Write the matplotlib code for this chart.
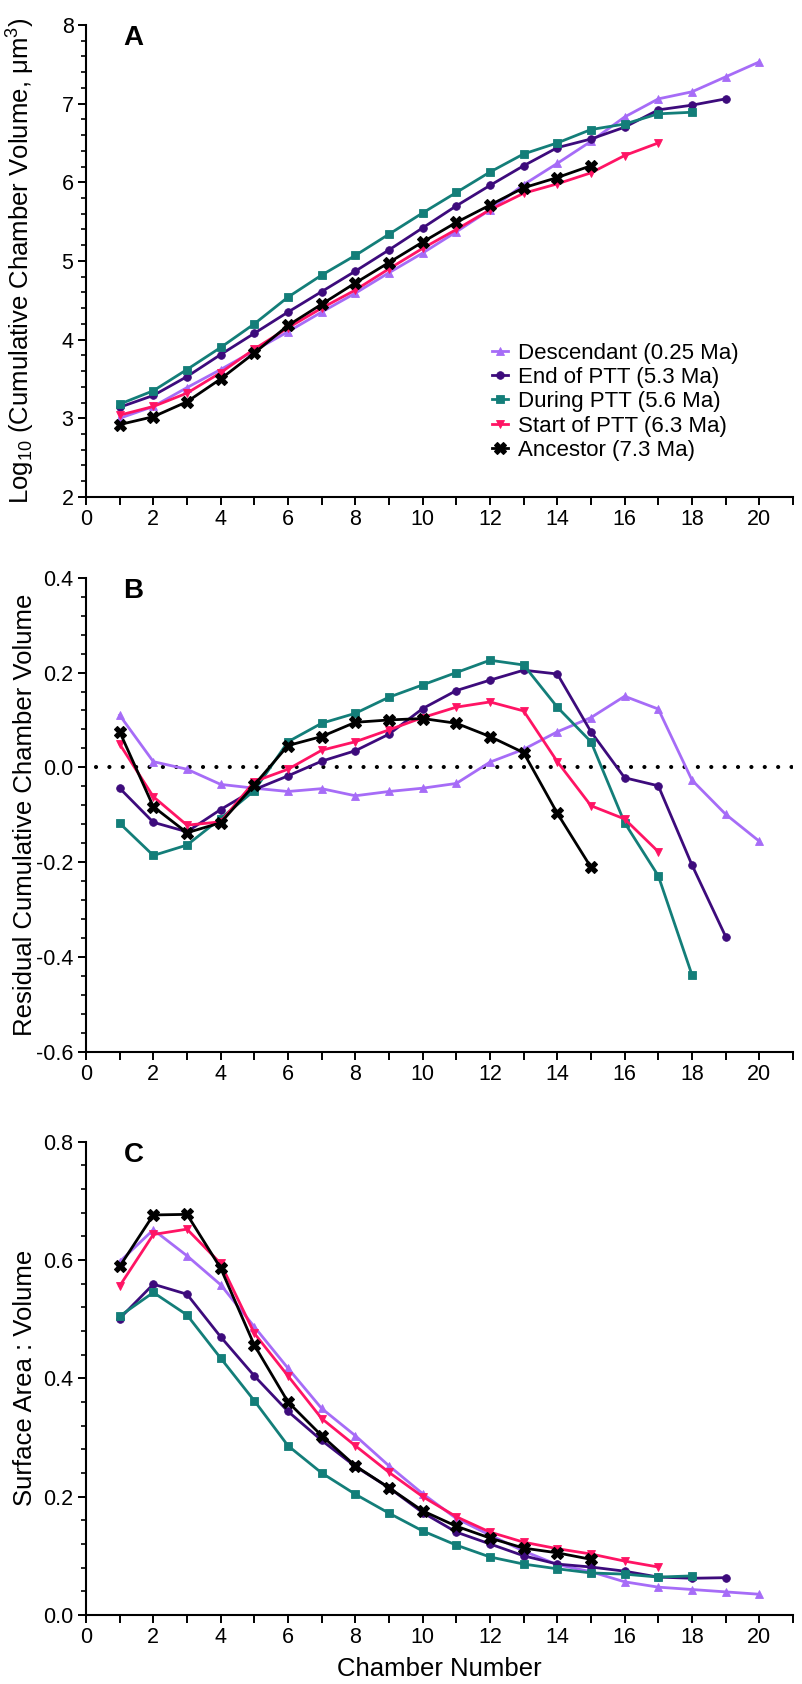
import matplotlib
matplotlib.use("Agg")
import matplotlib.pyplot as plt
from matplotlib.ticker import MultipleLocator, FuncFormatter

plt.rcParams['font.family'] = ['Liberation Sans', 'DejaVu Sans']
plt.rcParams['mathtext.fontset'] = 'custom'
plt.rcParams['mathtext.rm'] = 'Liberation Sans'
plt.rcParams['mathtext.it'] = 'Liberation Sans:italic'

# series labels / styles
names = ["Descendant (0.25 Ma)", "End of PTT (5.3 Ma)", "During PTT (5.6 Ma)",
         "Start of PTT (6.3 Ma)", "Ancestor (7.3 Ma)"]
colors = ["#a66cf7", "#3d0b7c", "#137e79", "#ff1464", "#000000"]
markers = ["^", "o", "s", "v", "X"]

# chamber numbers
ch_desc = list(range(1, 21))
ch_end = list(range(1, 20))
ch_during = list(range(1, 19))
ch_start = list(range(1, 18))
ch_anc = list(range(1, 16))

# A: log10 cumulative chamber volume
logvol_desc = [3.00, 3.15, 3.39, 3.62, 3.86, 4.10, 4.35, 4.59, 4.85, 5.10,
               5.37, 5.65, 5.97, 6.24, 6.52, 6.83, 7.06, 7.15, 7.34, 7.53]
logvol_end = [3.14, 3.29, 3.53, 3.81, 4.08, 4.35, 4.61, 4.87, 5.14, 5.42,
              5.70, 5.96, 6.21, 6.44, 6.55, 6.70, 6.92, 6.98, 7.06]
logvol_during = [3.18, 3.35, 3.62, 3.90, 4.20, 4.54, 4.82, 5.07, 5.34, 5.61,
                 5.87, 6.13, 6.36, 6.50, 6.67, 6.74, 6.87, 6.89]
logvol_start = [3.04, 3.15, 3.32, 3.58, 3.88, 4.15, 4.40, 4.63, 4.90, 5.16,
                5.40, 5.65, 5.86, 5.98, 6.12, 6.34, 6.50]
logvol_anc = [2.92, 3.02, 3.21, 3.50, 3.83, 4.18, 4.45, 4.72, 4.98, 5.24,
              5.49, 5.71, 5.93, 6.06, 6.21]

# B: residual cumulative chamber volume
resid_desc = [0.110, 0.012, -0.004, -0.036, -0.044, -0.051, -0.045, -0.060, -0.051, -0.044,
              -0.034, 0.011, 0.038, 0.075, 0.105, 0.150, 0.123, -0.027, -0.099, -0.156]
resid_end = [-0.044, -0.116, -0.136, -0.089, -0.047, -0.018, 0.013, 0.035, 0.070, 0.124,
             0.162, 0.184, 0.205, 0.197, 0.075, -0.022, -0.039, -0.206, -0.357]
resid_during = [-0.118, -0.186, -0.164, -0.108, -0.049, 0.054, 0.093, 0.114, 0.148, 0.174,
                0.200, 0.226, 0.216, 0.127, 0.054, -0.117, -0.229, -0.438]
resid_start = [0.049, -0.062, -0.122, -0.115, -0.030, -0.004, 0.036, 0.054, 0.079, 0.105,
               0.127, 0.138, 0.119, 0.012, -0.081, -0.109, -0.178]
resid_anc = [0.075, -0.083, -0.138, -0.117, -0.037, 0.046, 0.065, 0.095, 0.100, 0.103,
             0.093, 0.065, 0.031, -0.097, -0.211]

# C: surface area : volume
sav_desc = [0.597, 0.651, 0.607, 0.558, 0.487, 0.417, 0.349, 0.303, 0.252, 0.205,
            0.163, 0.135, 0.108, 0.085, 0.073, 0.056, 0.047, 0.043, 0.039, 0.035]
sav_end = [0.501, 0.559, 0.542, 0.470, 0.404, 0.344, 0.295, 0.251, 0.215, 0.173,
           0.140, 0.120, 0.100, 0.086, 0.081, 0.074, 0.064, 0.062, 0.063]
sav_during = [0.505, 0.545, 0.507, 0.434, 0.362, 0.286, 0.240, 0.204, 0.172, 0.142,
              0.118, 0.098, 0.086, 0.078, 0.071, 0.069, 0.064, 0.066]
sav_start = [0.556, 0.643, 0.652, 0.594, 0.476, 0.404, 0.332, 0.286, 0.241, 0.200,
             0.166, 0.140, 0.123, 0.112, 0.103, 0.091, 0.081]
sav_anc = [0.589, 0.676, 0.677, 0.586, 0.456, 0.360, 0.303, 0.252, 0.215, 0.176,
           0.150, 0.130, 0.113, 0.105, 0.094]

chambers = [ch_desc, ch_end, ch_during, ch_start, ch_anc]
panel_a = [logvol_desc, logvol_end, logvol_during, logvol_start, logvol_anc]
panel_b = [resid_desc, resid_end, resid_during, resid_start, resid_anc]
panel_c = [sav_desc, sav_end, sav_during, sav_start, sav_anc]

fig = plt.figure(figsize=(8.03, 16.84), dpi=100)
axA = fig.add_axes([0.1071, 0.7049, 0.8804, 0.2803])
axB = fig.add_axes([0.1071, 0.3755, 0.8804, 0.2814])
axC = fig.add_axes([0.1071, 0.0410, 0.8804, 0.2811])


def draw(ax, data):
    for i in range(5):
        ms = 6
        mew = 0.6
        if markers[i] == "o":
            ms = 5.5
        if markers[i] == "X":
            ms, mew = 8, 0.8
        ax.plot(chambers[i], data[i], color=colors[i], marker=markers[i],
                markersize=ms, linewidth=2.0, label=names[i], markeredgewidth=mew)


def style(ax, ylim, major, minor, fmt):
    ax.set_xlim(0, 21)
    ax.set_ylim(*ylim)
    for s in ["top", "right"]:
        ax.spines[s].set_visible(False)
    for s in ["left", "bottom"]:
        ax.spines[s].set_linewidth(1.5)
    ax.xaxis.set_major_locator(MultipleLocator(1))
    ax.xaxis.set_major_formatter(FuncFormatter(lambda v, p: "%d" % v if int(round(v)) % 2 == 0 else ""))
    ax.yaxis.set_major_locator(MultipleLocator(major))
    ax.yaxis.set_minor_locator(MultipleLocator(minor))
    ax.yaxis.set_major_formatter(FuncFormatter(lambda v, p: fmt % v))
    ax.tick_params(axis="both", which="major", length=6, width=1.4, labelsize=15.5, pad=3)
    ax.tick_params(axis="y", which="minor", length=3.5, width=1.2)
    ax.yaxis.set_label_coords(-0.069, 0.5)


draw(axA, panel_a)
style(axA, (2, 8), 1, 0.2, "%d")
axA.set_ylabel("Log$_{10}$ (Cumulative Chamber Volume, μm$^{3}$)", fontsize=18.5)
axA.legend(loc="lower left", bbox_to_anchor=(0.546, 0.034), frameon=False, fontsize=16,
           handlelength=0.7, handletextpad=0.45, labelspacing=0.15, borderpad=0.4)

draw(axB, panel_b)
axB.plot([0.3, 21], [0, 0], color="black", linewidth=3, linestyle=(0, (0.01, 3.2)),
         dash_capstyle="round", zorder=0)
style(axB, (-0.6, 0.4), 0.2, 0.04, "%.1f")
axB.set_ylabel("Residual Cumulative Chamber Volume", fontsize=18.5)

draw(axC, panel_c)
style(axC, (0.0, 0.8), 0.2, 0.04, "%.1f")
axC.set_ylabel("Surface Area : Volume", fontsize=18.5)
axC.set_xlabel("Chamber Number", fontsize=18.5, labelpad=6)

for ax, letter in [(axA, "A"), (axB, "B"), (axC, "C")]:
    ax.text(0.053, 1.0, letter, transform=ax.transAxes, fontsize=20,
            fontweight="bold", va="top", ha="left")

fig.savefig("out.png", dpi=100)
